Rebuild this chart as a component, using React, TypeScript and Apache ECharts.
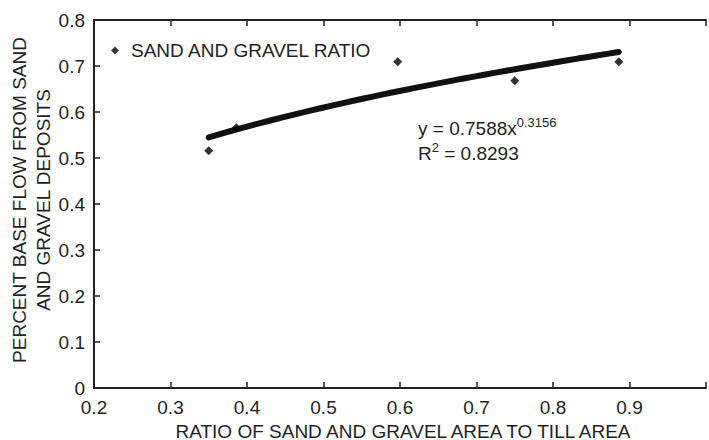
import React, { useEffect, useRef } from "react";
import * as echarts from "echarts";

const ratioX = [0.35, 0.386, 0.597, 0.75, 0.886];
const baseFlowY = [0.516, 0.566, 0.709, 0.668, 0.709];
const xTicks = [0.2, 1.0, 0.1];
const yTicks = [0, 0.8, 0.1];
const TREND_COEF = 0.7588;
const TREND_EXP = 0.3156;
const R2 = 0.8293;
const seriesName = "SAND AND GRAVEL RATIO";
const xTitle = "RATIO OF SAND AND GRAVEL AREA TO TILL AREA";
const yTitle = ["PERCENT BASE FLOW FROM SAND", "AND GRAVEL DEPOSITS"];

const INK = "#231f20";
const FONT = "'Liberation Sans', Arial, sans-serif";
const FS = 19;

export default function App() {
  const ref = useRef<HTMLDivElement>(null);
  useEffect(() => {
    document.body.style.margin = "0";
    const chart = echarts.init(ref.current!, null, { renderer: "svg" });
    const points = ratioX.map((x, i) => [x, baseFlowY[i]]);
    const xMin = Math.min(...ratioX);
    const xMax = Math.max(...ratioX);
    const trend: number[][] = [];
    const steps = 40;
    for (let i = 0; i <= steps; i++) {
      const x = xMin + ((xMax - xMin) * i) / steps;
      trend.push([x, TREND_COEF * Math.pow(x, TREND_EXP)]);
    }
    chart.setOption({
      animation: false,
      backgroundColor: "#ffffff",
      textStyle: { fontFamily: FONT, color: INK },
      grid: { left: 94, right: -9, top: 20, bottom: 52, containLabel: false },
      legend: {
        data: [{ name: seriesName, icon: "diamond" }],
        left: 106,
        top: 36,
        itemWidth: 8,
        itemHeight: 8,
        textStyle: { fontSize: FS, color: INK, fontFamily: FONT, padding: [0, 0, 0, 7] },
        selectedMode: false,
      },
      xAxis: [
        {
          type: "value",
          position: "bottom",
          min: xTicks[0],
          max: xTicks[1],
          interval: xTicks[2],
          axisLine: { show: true, lineStyle: { color: INK, width: 2 } },
          axisTick: { show: true, inside: true, length: 6, lineStyle: { color: INK, width: 1.5 } },
          axisLabel: {
            fontSize: FS,
            color: INK,
            fontFamily: FONT,
            margin: 10,
            formatter: (v: number) => (v >= 0.99 ? "" : v.toFixed(1)),
          },
          splitLine: { show: false },
        },
        {
          type: "value",
          position: "top",
          min: xTicks[0],
          max: xTicks[1],
          interval: xTicks[2],
          axisLine: { show: true, onZero: false, lineStyle: { color: INK, width: 2 } },
          axisTick: { show: true, inside: true, length: 6, lineStyle: { color: INK, width: 1.5 } },
          axisLabel: { show: false },
          splitLine: { show: false },
        },
      ],
      yAxis: {
        type: "value",
        min: yTicks[0],
        max: yTicks[1],
        interval: yTicks[2],
        axisLine: { show: true, lineStyle: { color: INK, width: 2 } },
        axisTick: { show: true, inside: true, length: 6, lineStyle: { color: INK, width: 1.5 } },
        axisLabel: {
          fontSize: FS,
          color: INK,
          fontFamily: FONT,
          margin: 9,
          formatter: (v: number) => (v === 0 ? "0" : v.toFixed(1)),
        },
        splitLine: { show: false },
      },
      series: [
        {
          name: "trend",
          type: "line",
          data: trend,
          showSymbol: false,
          symbol: "none",
          lineStyle: { color: "#111111", width: 6, cap: "round" },
          z: 2,
        },
        {
          name: seriesName,
          type: "scatter",
          data: points,
          symbol: "diamond",
          symbolSize: 9,
          itemStyle: { color: "#000000" },
          z: 3,
        },
      ],
      graphic: [
        {
          type: "text",
          left: 418,
          top: 116,
          style: {
            text: `{m|y = ${TREND_COEF}x}{s|${TREND_EXP}}\n{m|R}{s|2}{m| = ${R2}}`,
            fill: INK,
            rich: {
              m: { fontSize: FS, lineHeight: 25, fontFamily: FONT, fill: INK },
              s: { fontSize: 13, lineHeight: 25, fontFamily: FONT, fill: INK, padding: [0, 0, 12, 0] },
            },
          },
        },
        {
          type: "text",
          x: 403,
          y: 431,
          style: {
            text: xTitle,
            fontSize: FS,
            fontFamily: FONT,
            fill: INK,
            align: "center",
            verticalAlign: "middle",
          },
        },
        {
          type: "text",
          x: 19,
          y: 200,
          rotation: Math.PI / 2,
          style: {
            text: yTitle[0],
            fontSize: FS,
            fontFamily: FONT,
            fill: INK,
            align: "center",
            verticalAlign: "middle",
          },
        },
        {
          type: "text",
          x: 43,
          y: 200,
          rotation: Math.PI / 2,
          style: {
            text: yTitle[1],
            fontSize: FS,
            fontFamily: FONT,
            fill: INK,
            align: "center",
            verticalAlign: "middle",
          },
        },
      ],
    });
    return () => chart.dispose();
  }, []);
  return <div ref={ref} style={{ position: "absolute", left: 0, top: 0, width: 709, height: 440 }} />;
}
